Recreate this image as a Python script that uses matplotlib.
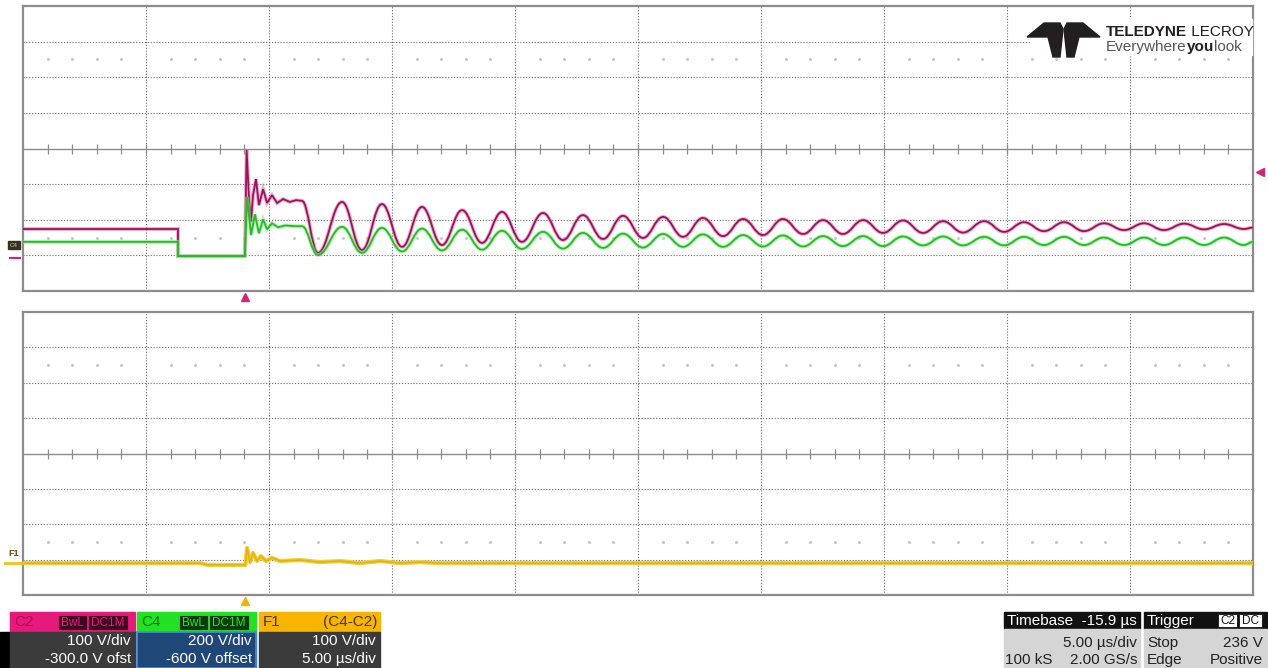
import numpy as np
import matplotlib.pyplot as plt
from matplotlib.path import Path
from matplotlib.patches import PathPatch, Rectangle, Polygon

# Screen time in us from the left edge (10 div x 5 us/div), levels in screen divisions
# C2 (magenta): flat part, drop, switching edge and ringing
c2_edge_t = [0.0, 6.30, 6.30, 9.02, 9.09, 9.19, 9.27, 9.35, 9.47, 9.59, 9.76,
             9.92, 10.12, 10.33, 10.57, 10.85, 11.10, 11.34]
c2_edge_v = [-2.26, -2.26, -3.02, -3.02, -0.04, -1.45, -2.06, -1.31, -0.86, -1.59, -1.14,
             -1.53, -1.31, -1.53, -1.42, -1.50, -1.45, -1.47]

# C4 (green): same edge
c4_edge_t = [0.0, 6.30, 6.30, 9.02, 9.11, 9.27, 9.43, 9.59, 9.76, 9.92, 10.12,
             10.37, 10.65, 11.06, 11.34]
c4_edge_v = [-2.62, -2.62, -3.02, -3.02, -1.36, -2.43, -1.85, -2.38, -1.99, -2.27, -2.10,
             -2.21, -2.16, -2.18, -2.18]

# extrema of the decaying oscillation (trough, peak, trough, ...), last = screen edge
osc_t = [11.99, 12.97, 13.78, 14.59, 15.41, 16.22, 17.03, 17.85, 18.66, 19.47,
         20.28, 21.14, 21.95, 22.76, 23.58, 24.39, 25.20, 26.02, 26.83, 27.64,
         28.46, 29.27, 30.08, 30.89, 31.71, 32.52, 33.33, 34.15, 34.96, 35.77,
         36.59, 37.40, 38.21, 39.07, 39.88, 40.69, 41.50, 42.32, 43.13, 43.94,
         44.76, 45.57, 46.38, 47.20, 48.01, 48.82, 49.63, 50.0]
c2_osc_v = [-2.93, -1.50, -2.85, -1.56, -2.76, -1.64, -2.71, -1.73, -2.65, -1.78,
            -2.62, -1.81, -2.57, -1.87, -2.54, -1.89, -2.51, -1.92, -2.48, -1.95,
            -2.46, -1.98, -2.43, -1.98, -2.40, -2.01, -2.40, -2.01, -2.37, -2.02,
            -2.37, -2.04, -2.36, -2.04, -2.34, -2.07, -2.32, -2.07, -2.32, -2.10,
            -2.29, -2.10, -2.29, -2.11, -2.27, -2.12, -2.26, -2.22]
c4_osc_v = [-2.99, -2.20, -2.93, -2.23, -2.89, -2.25, -2.86, -2.28, -2.84, -2.31,
            -2.82, -2.34, -2.81, -2.37, -2.79, -2.39, -2.78, -2.40, -2.76, -2.41,
            -2.76, -2.43, -2.75, -2.44, -2.75, -2.46, -2.74, -2.46, -2.74, -2.47,
            -2.72, -2.47, -2.72, -2.48, -2.72, -2.48, -2.71, -2.48, -2.71, -2.50,
            -2.71, -2.50, -2.71, -2.50, -2.71, -2.50, -2.71, -2.62]

# F1 = C4 - C2 (yellow)
f1_t = [0.0, 7.20, 7.52, 8.98, 9.04, 9.11, 9.23, 9.35, 9.51, 9.67, 9.88, 10.12,
        10.45, 11.26, 12.07, 12.89, 13.70, 14.51, 15.33, 16.14, 16.95, 19.39, 50.0]
f1_v = [-3.10, -3.10, -3.15, -3.15, -3.15, -2.67, -3.07, -2.81, -3.04, -2.90, -3.04, -2.95,
        -3.04, -3.01, -3.07, -3.04, -3.10, -3.04, -3.10, -3.07, -3.10, -3.10, -3.10]

trig_t = 9.02
trig_level = -0.66

W, H = 1268, 668
fig = plt.figure(figsize=(W / 100, H / 100), dpi=100)
fig.patch.set_facecolor('white')
ax1 = fig.add_axes([23 / W, 1 - 291 / H, 1230 / W, 285 / H])
ax2 = fig.add_axes([23 / W, 1 - 595 / H, 1230 / W, 283 / H])

def setup(ax):
    ax.set_xlim(0, 50)
    ax.set_ylim(-4, 4)
    ax.set_xticks([])
    ax.set_yticks([])
    for s in ax.spines.values():
        s.set_color('#8c8c8c')
        s.set_linewidth(1.6)
    for x in range(5, 50, 5):
        ax.axvline(x, color='#6a6a6a', lw=0.8, ls=(0, (1, 1.6)), zorder=1)
    for y in [-3, -2, -1, 1, 2, 3]:
        ax.axhline(y, color='#6a6a6a', lw=0.8, ls=(0, (1, 1.6)), zorder=1)
    ax.axhline(0, color='#8c8c8c', lw=1.0, zorder=1)
    ticks = [t for t in range(1, 50)]
    ax.plot(ticks, [0] * len(ticks), ls='none', marker='|', ms=7, mew=0.9,
            color='#8c8c8c', zorder=1)
    sub = [t for t in range(1, 50) if t % 5]
    for y in [-2.5, 2.5]:
        ax.plot(sub, [y] * len(sub), ls='none', marker='o', ms=1.2,
                color='#c8c8c8', zorder=1)

setup(ax1)
setup(ax2)

def trace_path(t_pts, v_pts, t_ext, v_ext):
    verts = list(zip(t_pts, v_pts))
    codes = [Path.MOVETO] + [Path.LINETO] * (len(verts) - 1)
    t0, v0 = t_pts[-1], v_pts[-1]
    for t1, v1 in zip(t_ext, v_ext):
        dt = t1 - t0
        verts += [(t0 + 0.40 * dt, v0), (t1 - 0.40 * dt, v1), (t1, v1)]
        codes += [Path.CURVE4] * 3
        t0, v0 = t1, v1
    return Path(verts, codes)

p2 = trace_path(c2_edge_t, c2_edge_v, osc_t, c2_osc_v)
p4 = trace_path(c4_edge_t, c4_edge_v, osc_t, c4_osc_v)
ax1.add_patch(PathPatch(p2, fill=False, ec='#e27cb0', lw=2.8, alpha=0.6, zorder=3))
ax1.add_patch(PathPatch(p2, fill=False, ec='#9c1157', lw=1.3, zorder=4))
ax1.add_patch(PathPatch(p4, fill=False, ec='#8fe68f', lw=2.8, alpha=0.6, zorder=5))
ax1.add_patch(PathPatch(p4, fill=False, ec='#1fbf1f', lw=1.3, zorder=6))

ax2.plot(f1_t, f1_v, color='#f3cd3a', lw=3.0, zorder=3)
ax2.plot(f1_t, f1_v, color='#e3b30c', lw=1.2, zorder=4)

# trigger markers
ax1.plot([trig_t], [-4.17], marker='^', ms=6, color='#d4237f', clip_on=False)
ax1.plot([50.3], [trig_level], marker='<', ms=6, color='#d4237f', clip_on=False)
ax2.plot([trig_t], [-4.17], marker='^', ms=6, color='#f0b400', clip_on=False)

# overlay in pixel coordinates for labels, logo and info boxes
ov = fig.add_axes([0, 0, 1, 1], zorder=10)
ov.set_xlim(0, W)
ov.set_ylim(H, 0)
ov.axis('off')
ov.patch.set_alpha(0)
ui = 'Liberation Sans'

# channel tags at left edge
ov.add_patch(Rectangle((8, 241), 12, 8, color='#3a3020'))
ov.text(14, 245.5, 'C4', fontsize=4.5, color='#9be89b', ha='center', va='center', family=ui)
ov.plot([10, 20], [258, 258], color='#d4237f', lw=1.5)
ov.text(14, 554, 'F1', fontsize=6.5, color='#6b4c00', ha='center', va='center',
        family=ui, weight='bold')
ov.plot([5, 23], [563, 563], color='#f0c419', lw=2)

# logo
ov.add_patch(Rectangle((1030, 19), 222, 36, color='white', zorder=1))
ov.add_patch(Polygon([(1027, 37), (1044, 23), (1060, 23), (1063, 29), (1060, 57),
                      (1053, 57), (1048, 37)], closed=True, color='#231f20', zorder=2))
ov.add_patch(Polygon([(1100, 37), (1083, 23), (1067, 23), (1064, 29), (1067, 57),
                      (1074, 57), (1079, 37)], closed=True, color='#231f20', zorder=2))
renderer = fig.canvas.get_renderer()

def put_row(x, y, parts):
    for s, w, c, fs in parts:
        t = ov.text(x, y, s, fontsize=fs, weight=w, color=c, ha='left', va='baseline',
                    family=ui, zorder=3)
        x += t.get_window_extent(renderer).width

put_row(1106, 36, [('TELEDYNE', 'bold', '#231f20', 11), (' LECROY', 'normal', '#231f20', 11)])
put_row(1106, 51, [('Everywhere', 'normal', '#555555', 11), ('you', 'bold', '#231f20', 11),
                   ('look', 'normal', '#555555', 11)])

# channel info boxes
fs = 11
ov.add_patch(Rectangle((0, 632), 10, 36, color='black'))
boxes = [
    (10, 135, '#e8197d', '#3b3b3b', 'C2', '#a3105a', '#3d0820', '#e8197d',
     '100 V/div', '-300.0 V ofst'),
    (137, 256, '#22e022', '#1f4778', 'C4', '#117511', '#0b3a0b', '#2ee02e',
     '200 V/div', '-600 V offset'),
]
for x0, x1, hc, lc, name, nc, bbg, btc, r1, r2 in boxes:
    ov.add_patch(Rectangle((x0, 612), x1 - x0, 20, color=hc))
    ov.add_patch(Rectangle((x0, 632), x1 - x0, 36, color=lc))
    ov.text(x0 + 4, 622, name, fontsize=fs, color=nc, va='center', family=ui)
    for bx0, bx1, s in [(x1 - 77, x1 - 48, 'BwL'), (x1 - 47, x1 - 7, 'DC1M')]:
        ov.add_patch(Rectangle((bx0, 615), bx1 - bx0, 15, fc=bbg, ec=btc, lw=0.6))
        ov.text((bx0 + bx1) / 2, 622.5, s, fontsize=8.5, color=btc, ha='center',
                va='center', family=ui)
    ov.text(x1 - 4, 641, r1, fontsize=fs, color='white', ha='right', va='center', family=ui)
    ov.text(x1 - 4, 659, r2, fontsize=fs, color='white', ha='right', va='center', family=ui)
ov.add_patch(Rectangle((137, 632), 119, 36, fill=False, ec='#4a8fd6', lw=1.2))

ov.add_patch(Rectangle((259, 612), 121, 20, color='#f7b500'))
ov.add_patch(Rectangle((259, 632), 121, 36, color='#3b3b3b'))
ov.text(263, 622, 'F1', fontsize=fs, color='#4a3500', va='center', family=ui)
ov.text(377, 622, '(C4-C2)', fontsize=fs, color='#4a3500', ha='right', va='center', family=ui)
ov.text(376, 641, '100 V/div', fontsize=fs, color='white', ha='right', va='center', family=ui)
ov.text(376, 659, '5.00 µs/div', fontsize=fs, color='white', ha='right', va='center', family=ui)

# timebase / trigger boxes
ov.add_patch(Rectangle((1004, 612), 136, 17, color='#111111'))
ov.add_patch(Rectangle((1004, 629), 136, 39, color='#d5d5d5'))
ov.add_patch(Rectangle((1144, 612), 123, 17, color='#111111'))
ov.add_patch(Rectangle((1144, 629), 123, 39, color='#d5d5d5'))
ov.text(1007, 620.5, 'Timebase  -15.9 µs', fontsize=fs, color='white', va='center', family=ui)
ov.text(1137, 643, '5.00 µs/div', fontsize=fs, color='#222222', ha='right', va='center', family=ui)
ov.text(1005, 660, '100 kS', fontsize=fs, color='#222222', va='center', family=ui)
ov.text(1137, 660, '2.00 GS/s', fontsize=fs, color='#222222', ha='right', va='center', family=ui)
ov.text(1147, 620.5, 'Trigger', fontsize=fs, color='white', va='center', family=ui)
for bx0, bx1, s in [(1218, 1237, 'C2'), (1239, 1262, 'DC')]:
    ov.add_patch(Rectangle((bx0, 614), bx1 - bx0, 13, fc='white', ec='#111111', lw=0.6))
    ov.text((bx0 + bx1) / 2, 620.5, s, fontsize=8.5, color='#111111', ha='center',
            va='center', family=ui)
ov.text(1147, 643, 'Stop', fontsize=fs, color='#222222', va='center', family=ui)
ov.text(1263, 643, '236 V', fontsize=fs, color='#222222', ha='right', va='center', family=ui)
ov.text(1147, 660, 'Edge', fontsize=fs, color='#222222', va='center', family=ui)
ov.text(1263, 660, 'Positive', fontsize=fs, color='#222222', ha='right', va='center', family=ui)

fig.savefig('out.png', dpi=100)
